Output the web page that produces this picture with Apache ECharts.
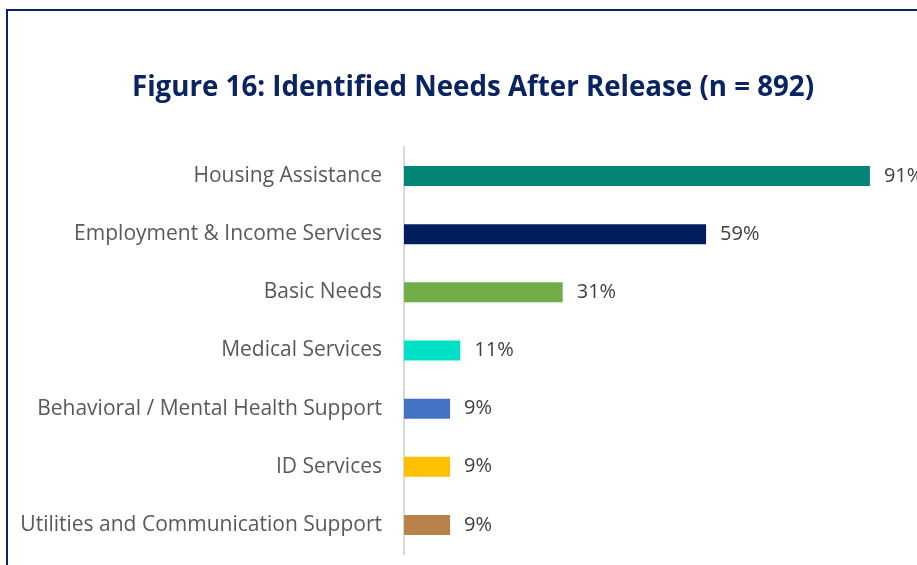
<!DOCTYPE html>
<html>
<head>
<meta charset="utf-8">
<script src="https://cdn.jsdelivr.net/npm/echarts@6/dist/echarts.min.js"></script>
<style>html,body{margin:0;padding:0;background:#fff;}#c{width:917px;height:565px;}</style>
</head>
<body>
<div id="c"></div>
<script>
const categories = ["Housing Assistance","Employment & Income Services","Basic Needs","Medical Services","Behavioral / Mental Health Support","ID Services","Utilities and Communication Support"];
const values = [91,59,31,11,9,9,9];
const colors = ["#008576","#001F5C","#70AD47","#00E0C6","#4472C4","#FFC000","#B8834A"];

const chart = echarts.init(document.getElementById('c'));
chart.setOption({
  animation:false,
  backgroundColor:'#fff',
  title:{
    text:'Figure 16: Identified Needs After Release (n = 892)',
    left:468, top:69, textAlign:'center',
    textStyle:{fontFamily:'Open Sans',fontWeight:'bold',fontSize:27.7,color:'#0A2463'}
  },
  graphic:[{type:'rect',shape:{x:7,y:10,width:1000,height:1000},style:{fill:'none',stroke:'#0A2463',lineWidth:2},z:-1}],
  grid:{left:404,top:147,width:512,bottom:11,containLabel:false},
  xAxis:{type:'value',min:0,max:100,show:false},
  yAxis:{type:'category',data:categories,inverse:true,
    axisLine:{lineStyle:{color:'#D9D9D9',width:2}},axisTick:{show:false},
    axisLabel:{margin:22,fontFamily:'Open Sans',fontSize:21,color:'#595959'}},
  series:[{type:'bar',barWidth:20,
    data:values.map((v,i)=>({value:v,itemStyle:{color:colors[i]}})),
    label:{show:true,position:'right',distance:14,formatter:'{c}%',fontFamily:'Open Sans',fontSize:20,color:'#404040'}}]
});
</script>
</body>
</html>
